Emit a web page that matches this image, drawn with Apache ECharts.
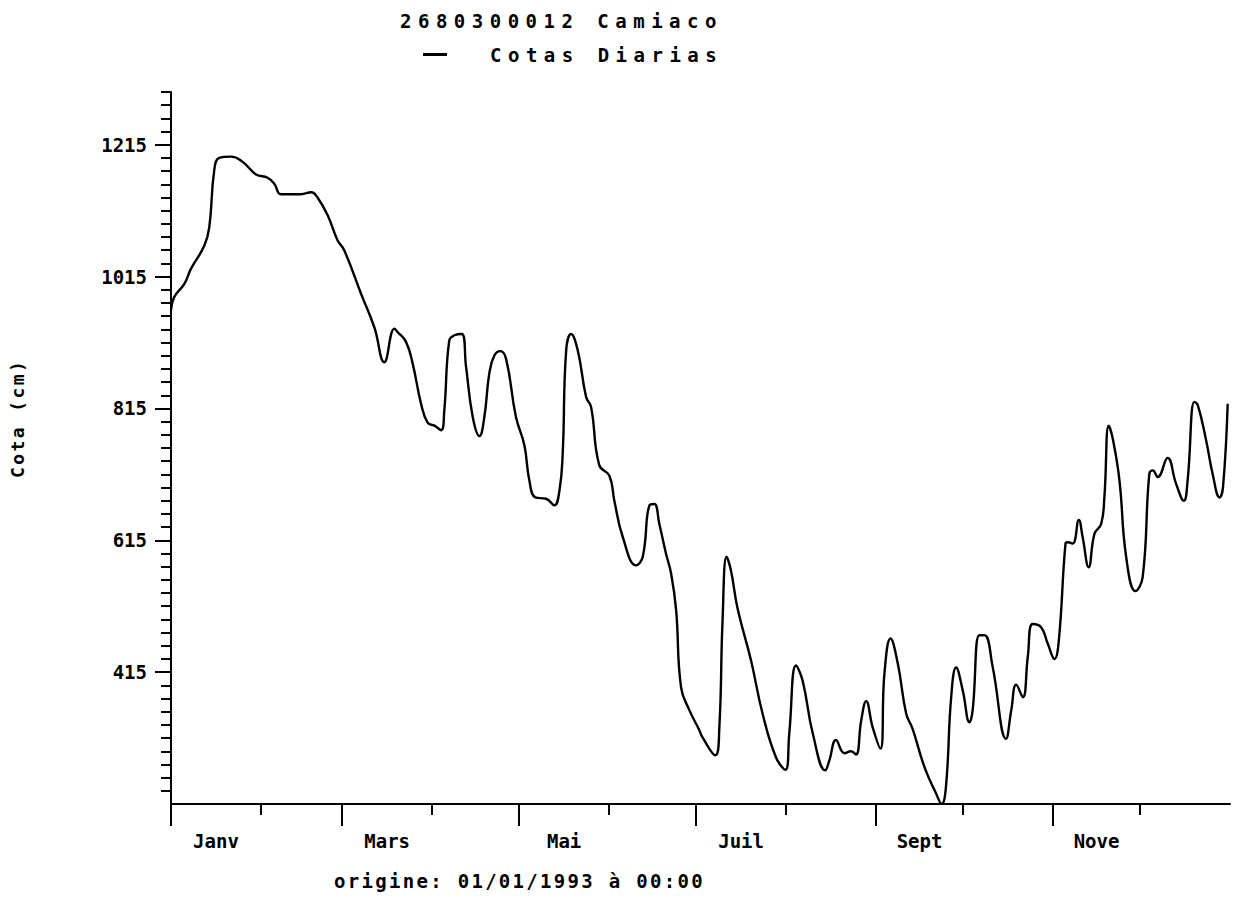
<!DOCTYPE html>
<html><head><meta charset="utf-8">
<script src="https://cdn.jsdelivr.net/npm/echarts@6/dist/echarts.min.js"></script>
<style>html,body{margin:0;padding:0;background:#fff}#c{width:1236px;height:911px}</style>
</head><body><div id="c"></div>
<script>
// Day of year 1993 (0 = 1 Jan) and daily stage (cm)
const days = [0,1.1,4.6,6.9,11.5,13.2,14.9,16.6,20.7,24.7,29.3,33.3,35.6,37.9,44.8,48.3,50.5,54,57.4,59.7,65.5,70.1,73.5,77,78.1,81,83.3,86.2,88.5,90.8,
93.1,94.2,95.9,97.7,100.2,101.7,104,106.3,108,109.7,111.4,113.5,115.5,118.9,121.8,123.5,125.6,129.3,132.1,133.9,135,136.2,137.9,140.2,143.1,144.8,147.6,151.1,152.8,155.7,160.3,162.6,164.9,166.6,168.3,170.6,172.4,174.1,175.8,178.7,182.1,
183.2,187.6,189,190.1,191.5,193,195.3,199.9,203.9,208.5,211.8,213.1,215.4,217.7,221.2,225.5,226.9,229.2,232.1,234.4,236.1,237.9,239.6,241.8,244.5,245.9,248,250.5,253.4,255.6,259.7,263.7,265.6,267.1,
268.9,270.6,272.9,275.2,276.3,278.6,280.4,283.2,287.8,289.6,291.3,293.6,295.3,297,299.9,302.2,304.5,306,308.3,309.1,310.8,312.9,314.2,316.3,318.3,320.6,321.7,323.2,324.6,326.9,329.2,332.4,334.9,337.2,338.4,340.1,343.5,346.4,349.1,350.4,352.7,353.9,356.8,359,361.4,362.6,364.2];
const cota = [964,984,1004,1027,1062,1090,1176,1195,1197,1189,1170,1165,1156,1140,1140,1143,1135,1108,1070,1055,989,938,885,936,931,916,883,822,793,789,
782,812,918,926,928,878,802,773,802,868,895,902,890,802,759,706,680,678,668,691,746,903,928,903,832,817,729,713,675,620,577,590,668,670,640,595,564,509,392,357,327,
316,289,332,493,590,569,511,433,352,286,267,322,425,402,322,266,281,312,292,295,290,342,371,332,299,413,466,428,352,329,271,231,215,241,
377,422,387,339,357,471,471,423,314,357,396,377,438,488,483,458,435,463,610,612,610,646,620,574,625,640,680,789,769,706,590,538,559,716,721,711,740,701,675,706,825,820,766,716,680,696,822];

const majorTickDays = [0,59,120,181,243,304];
const minorTickDays = [31,90,151,212,273,334];
const monthLabelDays = [15.5,74.5,135.5,196.5,258,319];
const monthLabels = ['Janv','Mars','Mai','Juil','Sept','Nove'];
const yMajorTicks = [415,615,815,1015,1215];
const yMin = 215, yMax = 1295;
const yMinorTicks = [];
for (let v = 235; v <= 1295; v += 20) yMinorTicks.push(v);

const FONT = 'DejaVu Sans Mono';
const chart = echarts.init(document.getElementById('c'), null, {renderer: 'svg'});
const axisCommon = {type: 'value', min: yMin, max: yMax, splitLine: {show: false}, position: 'left'};
chart.setOption({
  animation: false,
  backgroundColor: '#fff',
  title: [
    {text: '2680300012 Camiaco', left: 400, top: 11, padding: 0,
     textStyle: {fontFamily: FONT, fontSize: 19, fontWeight: 'bold', color: '#000'}},
    {text: 'origine: 01/01/1993 à 00:00', left: 334, top: 871, padding: 0,
     textStyle: {fontFamily: FONT, fontSize: 19, fontWeight: 'bold', color: '#000'}}
  ],
  legend: {
    data: ['Cotas Diarias'], left: 423, top: 45, padding: 0,
    icon: 'rect', itemWidth: 24, itemHeight: 3,
    textStyle: {fontFamily: FONT, fontSize: 19, fontWeight: 'bold', color: '#000', padding: [0, 0, 0, 38]}
  },
  graphic: [{
    type: 'text', x: 17, y: 478, rotation: Math.PI / 2,
    style: {text: 'Cota (cm)', fontFamily: FONT, fontSize: 18, fontWeight: 'bold', fill: '#000',
            textAlign: 'left', textVerticalAlign: 'middle'}
  }],
  grid: {left: 171, right: 6, top: 92, bottom: 107, containLabel: false, outerBoundsMode: 'none'},
  xAxis: [
    {type: 'value', position: 'bottom', min: 0, max: 365, splitLine: {show: false},
     axisLine: {show: true, lineStyle: {color: '#000', width: 2}},
     axisTick: {show: true, length: 11, lineStyle: {color: '#000', width: 2}, customValues: minorTickDays},
     axisLabel: {show: false}},
    {type: 'value', position: 'bottom', offset: 0, min: 0, max: 365, splitLine: {show: false},
     axisLine: {show: false},
     axisTick: {show: true, length: 22, lineStyle: {color: '#000', width: 2}, customValues: majorTickDays},
     axisLabel: {show: true, customValues: monthLabelDays, margin: 27,
       fontFamily: FONT, fontSize: 19, fontWeight: 'bold', color: '#000',
       formatter: v => monthLabels[monthLabelDays.indexOf(v)] || ''}}
  ],
  yAxis: [
    Object.assign({}, axisCommon, {
      axisLine: {show: true, lineStyle: {color: '#000', width: 2}},
      axisTick: {show: true, length: 10, lineStyle: {color: '#000', width: 2}, customValues: yMinorTicks},
      axisLabel: {show: false}}),
    Object.assign({}, axisCommon, {
      offset: 0,
      axisLine: {show: false},
      axisTick: {show: true, length: 16, lineStyle: {color: '#000', width: 2}, customValues: yMajorTicks},
      axisLabel: {show: true, customValues: yMajorTicks, margin: 24,
        fontFamily: FONT, fontSize: 19, fontWeight: 'bold', color: '#000',
        formatter: v => String(v)}})
  ],
  series: [{
    name: 'Cotas Diarias', type: 'line', xAxisIndex: 0, yAxisIndex: 0,
    data: days.map((d, i) => [d, cota[i]]),
    symbol: 'none', smooth: 0.45,
    lineStyle: {color: '#000', width: 2.4}, itemStyle: {color: '#000'}
  }]
});

function spaceText() {
  const map = {'2680300012 Camiaco': '6.5px', 'Cotas Diarias': '6.5px',
               'origine: 01/01/1993 à 00:00': '2.3px', 'Cota (cm)': '2.4px'};
  document.querySelectorAll('#c svg text').forEach(t => {
    const s = map[t.textContent.trim()];
    if (s) t.style.letterSpacing = s;
  });
}
spaceText();
chart.on('finished', spaceText);
setTimeout(spaceText, 0);
</script>
</body></html>
